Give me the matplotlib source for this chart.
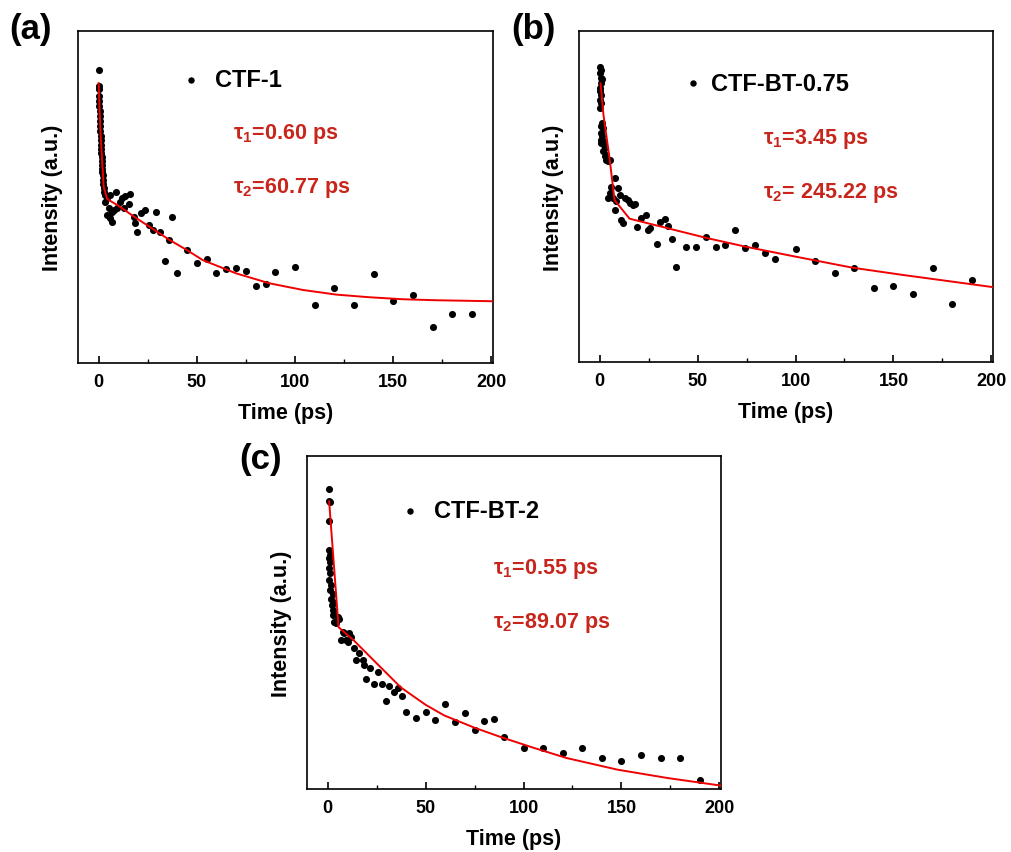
import matplotlib
matplotlib.use('Agg')
import matplotlib.pyplot as plt
from matplotlib.ticker import MultipleLocator

plt.rcParams['font.family'] = ['Liberation Sans', 'DejaVu Sans']
plt.rcParams['font.weight'] = 'bold'
plt.rcParams['mathtext.fontset'] = 'custom'
plt.rcParams['mathtext.rm'] = 'Liberation Sans:bold'
plt.rcParams['mathtext.it'] = 'Liberation Sans:bold'
plt.rcParams['mathtext.bf'] = 'Liberation Sans:bold'

# ---------------- data (a) CTF-1 ----------------
t_a = [0.0, 0.0, 0.1, 0.2, 0.3, 0.4, 0.5, 0.6, 0.7, 0.8, 0.9, 1.0, 1.1, 1.2, 1.3,
       1.4, 1.5, 1.6, 1.7, 1.8, 1.9, 2.0, 2.2, 2.4, 2.6, 2.8, 3.0,
       3.4, 4.2, 4.2, 5.1, 5.9, 5.9, 6.8, 6.8, 7.6, 9.0, 9.3, 11.0, 11.9, 12.7,
       13.6, 15.3, 16.1, 17.8, 18.6, 19.5, 21.5, 23.7, 25.4, 27.6, 29.3, 31.4,
       33.6, 35.6, 37.6, 40, 45, 50, 55, 60, 65, 70, 75, 80, 85, 90,
       100, 110, 120, 130, 140, 150, 160, 170, 180, 190]
y_a = [0.882, 0.835, 0.825, 0.805, 0.790, 0.775, 0.760, 0.745, 0.730, 0.715, 0.700,
       0.685, 0.672, 0.658, 0.645, 0.632, 0.620, 0.608, 0.596, 0.585, 0.575,
       0.565, 0.550, 0.538, 0.527, 0.515, 0.505,
       0.486, 0.497, 0.446, 0.466, 0.507, 0.436, 0.456, 0.424, 0.461, 0.515,
       0.466, 0.486, 0.496, 0.466, 0.502, 0.478, 0.510, 0.439, 0.421, 0.396,
       0.451, 0.461, 0.416, 0.401, 0.456, 0.394, 0.308, 0.371, 0.441, 0.272,
       0.340, 0.300, 0.313, 0.270, 0.283, 0.287, 0.277, 0.233, 0.238, 0.275,
       0.289, 0.176, 0.225, 0.174, 0.267, 0.186, 0.204, 0.109, 0.147, 0.147]
fit_a_t = [0, 0.5, 1.0, 1.7, 2.6, 4.3, 6, 10, 18, 26, 36, 45, 53, 70, 87, 104,
           121, 138, 155, 172, 201]
fit_a_y = [0.843, 0.760, 0.690, 0.616, 0.530, 0.495, 0.488, 0.474, 0.441, 0.410,
           0.371, 0.340, 0.310, 0.270, 0.240, 0.220, 0.206, 0.198, 0.192, 0.189,
           0.186]

# ---------------- data (b) CTF-BT-0.75 ----------------
t_b = [0.34, 0.85, 0.0, 0.5, 1.2, 0.85, 0.34, 0.0, 0.85, 0.34, 0.85, 0.34, 1.36,
       0.85, 1.7, 0.85, 1.36, 0.85, 1.7, 0.85, 2.04, 2.55, 1.7, 3.06, 2.55, 3.4,
       4.25, 5.1,
       7.65, 5.95, 9.35, 10.2, 4.25, 5.1, 6.8, 8.5, 7.65, 11.05, 11.9, 12.75,
       14.45, 15.3, 17.0, 17.9, 19.2, 21.3, 23.5, 24.7, 25.5, 29.3, 30.9, 33.2,
       35.0, 37.0, 39.1, 44.2, 49.3, 54.1, 59.2, 64.1, 69.2, 74.3, 79.4, 84.5,
       89.5, 100, 110, 120, 130, 140, 150, 160, 170, 180, 190]
y_b = [0.891, 0.881, 0.874, 0.859, 0.854, 0.843, 0.828, 0.818, 0.808, 0.793,
       0.783, 0.768, 0.722, 0.712, 0.707, 0.692, 0.682, 0.672, 0.667, 0.662,
       0.657, 0.646, 0.636, 0.626, 0.621, 0.611, 0.606, 0.611,
       0.556, 0.530, 0.527, 0.505, 0.495, 0.510, 0.495, 0.485, 0.460, 0.429,
       0.419, 0.495, 0.490, 0.480, 0.475, 0.477, 0.409, 0.436, 0.444, 0.399,
       0.404, 0.356, 0.422, 0.432, 0.412, 0.371, 0.288, 0.346, 0.346, 0.377,
       0.348, 0.352, 0.399, 0.345, 0.354, 0.328, 0.310, 0.341, 0.305, 0.270,
       0.283, 0.224, 0.229, 0.204, 0.285, 0.174, 0.247]
fit_b_t = [0.5, 2.0, 5.1, 7.65, 15.3, 54.4, 74.8, 100.3, 129, 154.8, 201]
fit_b_y = [0.842, 0.746, 0.615, 0.489, 0.433, 0.375, 0.348, 0.318, 0.285, 0.263,
           0.226]

# ---------------- data (c) CTF-BT-2 ----------------
t_c = [0.85, 0.85, 1.36, 0.85, 0.85, 1.36, 0.85, 1.36, 0.85, 1.36, 0.85, 1.7,
       1.36, 2.55, 1.7, 2.55, 2.2, 2.55, 3.4, 2.55, 5.1, 5.95, 3.4, 4.25,
       7.65, 8.5, 11.05, 11.9, 6.8, 9.35, 10.2, 13.6, 14.45, 16.15, 17.9, 18.7,
       19.6, 21.6, 23.5, 25.5, 27.6, 29.8, 31.6, 33.7, 35.7, 37.8, 39.8,
       45, 50, 55, 60, 65, 70, 75, 80, 85, 90,
       100, 110, 120, 130, 140, 150, 160, 170, 180, 190]
y_c = [0.901, 0.865, 0.863, 0.805, 0.718, 0.703, 0.693, 0.683, 0.663, 0.648,
       0.627, 0.612, 0.597, 0.587, 0.572, 0.562, 0.552, 0.537, 0.532, 0.522,
       0.517, 0.510, 0.502, 0.497,
       0.472, 0.467, 0.467, 0.457, 0.447, 0.447, 0.442, 0.422, 0.387, 0.407,
       0.387, 0.373, 0.329, 0.363, 0.316, 0.351, 0.314, 0.264, 0.309, 0.291,
       0.303, 0.279, 0.231,
       0.214, 0.231, 0.208, 0.254, 0.200, 0.228, 0.176, 0.204, 0.209, 0.156,
       0.123, 0.123, 0.108, 0.123, 0.092, 0.083, 0.103, 0.092, 0.092, 0.028]
fit_c_t = [0.8, 5.6, 13.6, 21.2, 37.4, 50, 59.5, 75, 88.4, 105, 122, 148, 173.5, 201]
fit_c_y = [0.864, 0.486, 0.445, 0.400, 0.305, 0.253, 0.221, 0.184, 0.156, 0.124,
           0.093, 0.058, 0.033, 0.010]

names = ['CTF-1', 'CTF-BT-0.75', 'CTF-BT-2']
tau1 = [r'τ$_1$=0.60 ps', r'τ$_1$=3.45 ps', r'τ$_1$=0.55 ps']
tau2 = [r'τ$_2$=60.77 ps', r'τ$_2$= 245.22 ps', r'τ$_2$=89.07 ps']
letters = ['(a)', '(b)', '(c)']
x_ticks = [0, 50, 100, 150, 200]

W, H = 1011, 853
fig = plt.figure(figsize=(W / 100, H / 100), dpi=100)

boxes = [(78, 32, 493, 364), (579, 32, 993, 363), (307, 457, 721, 790)]
letter_pos = [(9, 29), (511, 29), (239, 460)]
legend_xy = [(0.272, 0.853, 0.33), (0.275, 0.842, 0.318), (0.249, 0.835, 0.307)]
tau_xy = [(0.373, 0.692, 0.529), (0.445, 0.676, 0.514), (0.449, 0.665, 0.502)]

series = [(t_a, y_a, fit_a_t, fit_a_y), (t_b, y_b, fit_b_t, fit_b_y),
          (t_c, y_c, fit_c_t, fit_c_y)]
red_text = '#C8261C'

for i, (l, t, r, b) in enumerate(boxes):
    ax = fig.add_axes([l / W, 1 - b / H, (r - l) / W, (b - t) / H])
    tt, yy, ft, fy = series[i]
    ax.scatter(tt, yy, s=26, c='black', linewidths=0, zorder=3)
    ax.plot(ft, fy, color='#F00000', lw=1.4, zorder=4)
    ax.set_xlim(-10.5, 200.8)
    ax.set_ylim(0, 1)
    ax.set_xticks(x_ticks)
    ax.xaxis.set_minor_locator(MultipleLocator(25))
    ax.set_yticks([])
    ax.tick_params(axis='x', which='major', direction='in', length=5, width=1.2,
                   labelsize=13, pad=7)
    ax.tick_params(axis='x', which='minor', direction='in', length=3, width=1.0)
    for lab in ax.get_xticklabels():
        lab.set_fontweight('bold')
    for s in ax.spines.values():
        s.set_linewidth(1.2)
    ax.set_xlabel('Time (ps)', fontsize=15.5, fontweight='bold')
    ax.xaxis.set_label_coords(0.5, -0.118)
    ax.set_ylabel('Intensity (a.u.)', fontsize=15.5, fontweight='bold')
    ax.yaxis.set_label_coords(-0.036, 0.5)
    mx, my, tx = legend_xy[i]
    ax.plot([mx], [my], 'o', color='black', ms=3.6, transform=ax.transAxes)
    ax.text(tx, my, names[i], transform=ax.transAxes, fontsize=17,
            fontweight='bold', va='center', ha='left')
    kx, k1, k2 = tau_xy[i]
    ax.text(kx, k1, tau1[i], transform=ax.transAxes, fontsize=15.5,
            fontweight='bold', color=red_text, va='center', ha='left')
    ax.text(kx, k2, tau2[i], transform=ax.transAxes, fontsize=15.5,
            fontweight='bold', color=red_text, va='center', ha='left')
    lx, ly = letter_pos[i]
    fig.text(lx / W, 1 - ly / H, letters[i], fontsize=25, fontweight='bold',
             va='center', ha='left')

fig.savefig('out.png', dpi=100)
